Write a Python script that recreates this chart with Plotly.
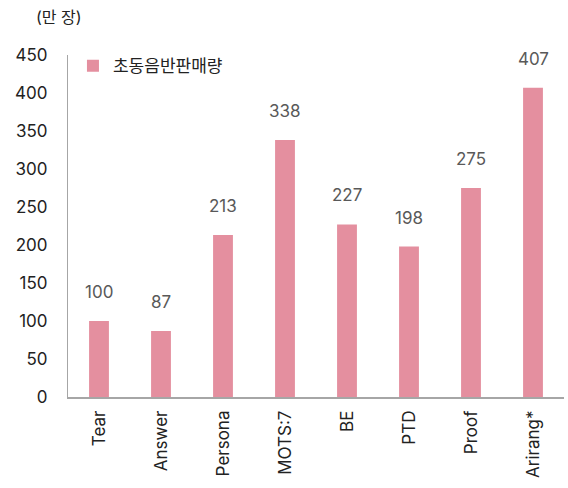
import plotly.graph_objects as go

categories = ["Tear", "Answer", "Persona", "MOTS:7", "BE", "PTD", "Proof", "Arirang*"]
sales = [100, 87, 213, 338, 227, 198, 275, 407]
series_name = "초동음반판매량"
y_ticks = [0, 50, 100, 150, 200, 250, 300, 350, 400, 450]

FONT = "Inter, 'Noto Sans CJK KR', sans-serif"

fig = go.Figure()
fig.add_trace(go.Bar(
    x=categories, y=sales, name=series_name,
    marker=dict(color="#E48F9F", line=dict(width=0)),
))

annotations = [dict(x=c, y=v, text=str(v), xref="x", yref="y",
                    showarrow=False, yanchor="bottom", yshift=17,
                    font=dict(family=FONT, size=17, color="#595959"))
               for c, v in zip(categories, sales)]
annotations.append(dict(text="(만 장)", xref="paper", yref="paper",
                        x=-0.068, y=1.0, yshift=38, xanchor="left", yanchor="middle",
                        showarrow=False,
                        font=dict(family=FONT, size=16, color="#222222")))

fig.update_layout(
    width=568, height=488,
    margin=dict(l=68, r=4, t=55, b=91),
    paper_bgcolor="white", plot_bgcolor="white",
    font=dict(family=FONT, size=17, color="#222222"),
    bargap=0.68,
    showlegend=True,
    legend=dict(x=0.01, y=1.02, xanchor="left", yanchor="top",
                font=dict(family=FONT, size=17, color="#222222"),
                bgcolor="rgba(0,0,0,0)", itemwidth=30),
    xaxis=dict(showline=True, linecolor="#A6A6A6", linewidth=1.5,
               tickangle=-90, ticks="", showgrid=False, automargin=False,
               ticklabelstandoff=5,
               tickfont=dict(family=FONT, size=17, color="#222222")),
    yaxis=dict(range=[0, 450], tickvals=y_ticks, showline=True,
               linecolor="#A6A6A6", linewidth=1.2, showgrid=False,
               zeroline=False, ticks="", ticklabelstandoff=16, automargin=False,
               tickfont=dict(family=FONT, size=17, color="#222222")),
    annotations=annotations,
)
fig.write_html("out.html", config={"displayModeBar": False},
               post_script="document.body.style.margin='0';document.body.style.padding='0';")
